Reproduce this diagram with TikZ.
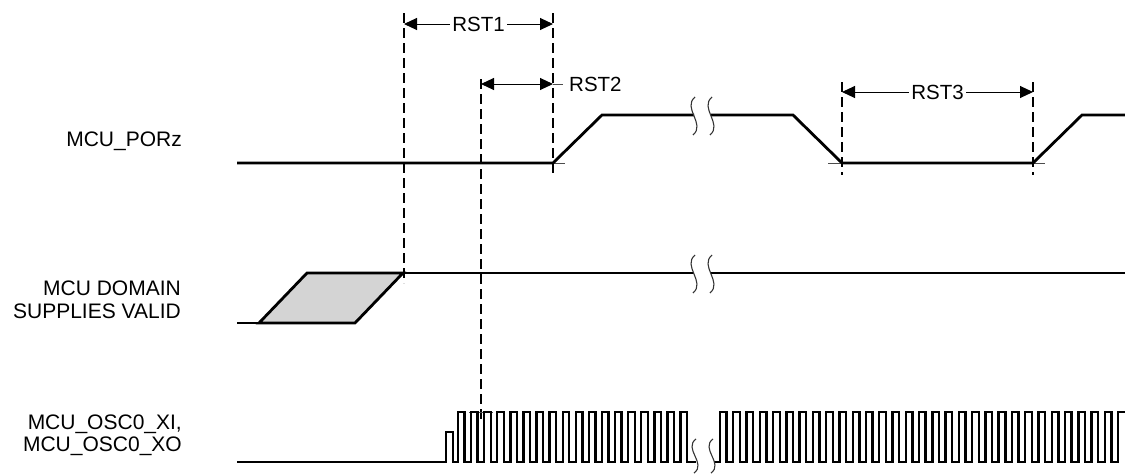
\documentclass[tikz,border=0pt]{standalone}
\usepackage{fontspec}
\setmainfont{Liberation Sans}
\usetikzlibrary{arrows.meta}
\begin{document}
\begin{tikzpicture}[x=1pt,y=-1pt,
  sig/.style={line width=2.8pt, line join=miter, line cap=butt},
  clk/.style={line width=2.4pt, line join=miter},
  guide/.style={line width=1.1pt, dash pattern=on 10pt off 5pt},
  dim/.style={line width=1pt, {Triangle[length=13pt,width=12pt]}-{Triangle[length=13pt,width=12pt]}},
  tickl/.style={line width=0.7pt, black!70},
  brk/.style={line width=1.1pt, black!80},
  lbl/.style={font=\fontsize{21}{22.5}\selectfont, inner sep=0pt, align=right},
  dimlbl/.style={font=\fontsize{20.5}{22}\selectfont, fill=white, inner sep=2pt},
  brkmark/.pic={\draw[brk] (1,-19) .. controls (-12,-8) and (12,8) .. (-1,19);}]

\useasboundingbox (0,0) rectangle (1125,474);

% signal labels
\node[lbl, anchor=base east] (lpor) at (182,146.5) {MCU\_PORz};
\node[lbl, anchor=east] (lsup) at (181,300) {MCU DOMAIN\\SUPPLIES VALID};
\node[lbl, anchor=east] (losc) at (182,435) {MCU\_OSC0\_XI,\\MCU\_OSC0\_XO};

% guide coordinates
\coordinate (g1t) at (404,13);  \coordinate (g1b) at (404,283);
\coordinate (g2t) at (481,79);  \coordinate (g2b) at (481,423);
\coordinate (g3t) at (553,13);  \coordinate (g3b) at (553,175);
\coordinate (g4t) at (842,82);  \coordinate (g4b) at (842,175);
\coordinate (g5t) at (1033,82); \coordinate (g5b) at (1033,175);

% dashed guides
\draw[guide] (g1t) -- (g1b);
\draw[guide] (g2t) -- (g2b);
\draw[guide] (g3t) -- (g3b);
\draw[guide] (g4t) -- (g4b);
\draw[guide] (g5t) -- (g5b);

% dimension arrows
\coordinate (a1l) at (404,24); \coordinate (a1r) at (553,24);
\coordinate (a2l) at (481,84); \coordinate (a2r) at (553,84); \coordinate (a2e) at (563,84);
\coordinate (a3l) at (842,92); \coordinate (a3r) at (1033,92);
\draw[dim] (a1l) -- node[dimlbl] (rst1) {RST1} (a1r);
\draw[dim] (a2l) -- (a2r);
\draw[tickl, line width=1pt] (a2r) -- (a2e);
\node[dimlbl, fill=none, anchor=west, inner sep=0pt] (rst2) at (569,84) {RST2};
\draw[dim] (a3l) -- node[dimlbl] (rst3) {RST3} (a3r);

% small crossing ticks
\draw[tickl] (553,163) -- (565,163);
\draw[tickl] (828,163) -- (842,163);
\draw[tickl] (1033,163) -- (1045,163);
\draw[tickl] (469,412) -- (493,412);
\draw[tickl] (403,273) -- (409,273);

% MCU_PORz
\draw[sig] (237,163) -- (553,163) -- (602,115) -- (694,115);
\draw[sig] (711,115) -- (793,115) -- (842,163) -- (1033,163) -- (1082,115) -- (1125,115);
\pic at (694,116) {brkmark};
\pic at (711,116) {brkmark};

% MCU domain supplies valid
\draw[sig, fill=black!17] (259,323) -- (307,273) -- (403,273) -- (355,323) -- cycle;
\draw[sig] (237,323) -- (259,323);
\draw[sig] (403,273) -- (694,273);
\draw[sig] (711,273) -- (1125,273);
\pic at (694,274) {brkmark};
\pic at (711,274) {brkmark};

% oscillator
\draw[clk] (237,462) -- (446,462) -- (446,432) -- (453,432) -- (453,462) -- (458,462)
  \foreach \i in {0,...,17} { -- ({458+\i*13.09},462) -- ({458+\i*13.09},412)
     -- ({458+\i*13.09+6.545},412) -- ({458+\i*13.09+6.545},462) } -- (696,462);
\draw[clk] (714,462)
  \foreach \i in {0,...,29} { -- ({720+\i*13.27},462) -- ({720+\i*13.27},412)
     -- ({720+\i*13.27+6.635},412) -- ({720+\i*13.27+6.635},462) }
  -- (1118,462) -- (1118,412) -- (1126,412);
\pic[yscale=0.9] at (695,456) {brkmark};
\pic[yscale=0.9] at (712,456) {brkmark};
\end{tikzpicture}
\end{document}
